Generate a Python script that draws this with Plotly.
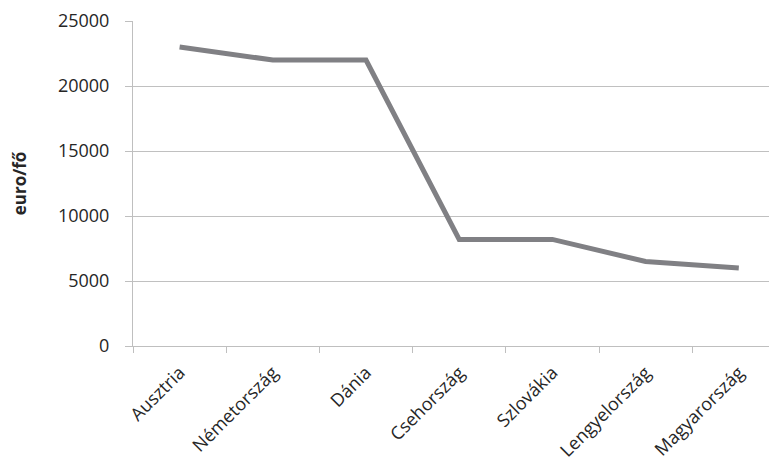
import plotly.graph_objects as go

categories = ["Ausztria", "Németország", "Dánia", "Csehország", "Szlovákia", "Lengyelország", "Magyarország"]
values = [23000, 22000, 22000, 8200, 8200, 6500, 6000]
y_title = "euro/fő"

# page body has an 8px default margin; compensate so plot lands where the reference has it
OFF = 8
W, H = 777 - OFF, 467 - OFF
left, top, bottom = 133 - OFF, 21 - OFF, 346 - OFF
cat_w = 93.2
x_right = (W - left) / cat_w - 0.5

fig = go.Figure()
fig.add_trace(go.Scatter(
    x=list(range(len(categories))), y=values, mode="lines",
    line=dict(color="#808084", width=5), hoverinfo="skip"))

FAM = "Open Sans, Lato, sans-serif"
TXT = "#262626"
fig.update_layout(
    width=W, height=H,
    margin=dict(l=left, r=0, t=top, b=H - bottom, pad=0),
    paper_bgcolor="white", plot_bgcolor="white",
    showlegend=False, font=dict(family=FAM, size=18, color=TXT),
    xaxis=dict(
        range=[-0.5, x_right], tickmode="array",
        tickvals=list(range(len(categories))), ticktext=categories,
        tickangle=-45, showgrid=False, zeroline=False,
        showline=True, linecolor="#bfbfbf", linewidth=1,
        ticks="", tickfont=dict(size=18, family=FAM, color=TXT),
        ticklabelstandoff=8,
        minor=dict(tickmode="array", tickvals=[i + 0.5 for i in range(-1, len(categories))],
                   ticks="outside", ticklen=6, tickcolor="#bfbfbf", showgrid=False),
        fixedrange=True),
    yaxis=dict(
        range=[0, 25000], dtick=5000, tick0=0, tickformat="d",
        showgrid=True, gridcolor="#c0c0c0", gridwidth=1,
        zeroline=False, showline=True, linecolor="#bfbfbf", linewidth=1,
        ticks="outside", ticklen=7, tickcolor="#bfbfbf",
        tickfont=dict(size=18, family=FAM, color=TXT),
        ticklabelstandoff=12,
        title=dict(text="<b>" + y_title + "</b>", standoff=32,
                   font=dict(size=17, family=FAM, color=TXT)),
        fixedrange=True),
)
fig.write_html("out.html")
